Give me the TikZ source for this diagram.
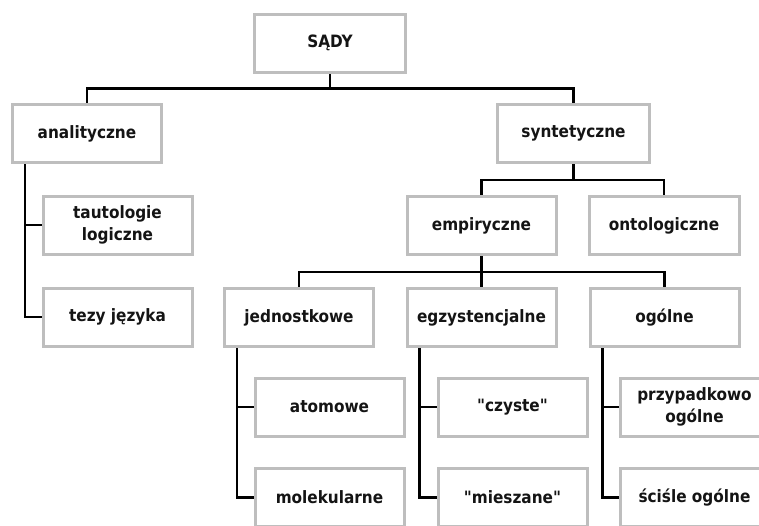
\documentclass[tikz,border=0pt]{standalone}
\usepackage{fontspec}
\setmainfont{DejaVu Sans Condensed}[Ligatures=TeXOff]
\usetikzlibrary{backgrounds}
\definecolor{boxgray}{RGB}{190,190,190}
\definecolor{txt}{RGB}{20,20,20}
\tikzset{
  box/.style={draw=boxgray, line width=3pt, fill=white, rectangle,
    minimum width=149pt, minimum height=58pt, inner sep=2pt, align=center,
    text=txt, font=\bfseries\fontsize{17}{22}\selectfont},
  conn/.style={draw=black, line width=2.8pt}
}
\begin{document}
\begin{tikzpicture}[x=1pt,y=-1pt]
\useasboundingbox (0,0) rectangle (759,525);
\clip (0,0) rectangle (759,525);
\node[box, minimum width=151pt] (sady) at (330,43) {SĄDY};
\node[box] (anal) at (87,133.5) {analityczne};
\node[box, minimum width=152pt] (synt) at (573.5,133.5) {syntetyczne};
\node[box] (taut) at (117.5,225) {tautologie\\logiczne};
\node[box] (tezy) at (117.5,317) {tezy języka};
\node[box] (emp) at (481.5,225.5) {empiryczne};
\node[box, minimum width=150pt] (onto) at (664,225.5) {ontologiczne};
\node[box] (jedn) at (299,317.5) {jednostkowe};
\node[box] (egz) at (481.5,317.5) {egzystencjalne};
\node[box] (ogol) at (664.5,317.5) {ogólne};
\node[box] (atom) at (329.5,407) {atomowe};
\node[box] (molek) at (329.5,497.5) {molekularne};
\node[box] (czys) at (512.5,407) {"czyste"};
\node[box] (mies) at (512.5,497.5) {"mieszane"};
\node[box] (przy) at (694.5,407) {przypadkowo\\ogólne};
\node[box] (scis) at (694.5,497.5) {ściśle ogólne};
\begin{scope}[on background layer]
\draw[conn] (sady.south) -- ++(0,15) -| (anal.north);
\draw[conn] (sady.south) -- ++(0,15) -| (synt.north);
\draw[conn] ([xshift=14pt]anal.south west) |- (taut.west);
\draw[conn] ([xshift=14pt]anal.south west) |- (tezy.west);
\draw[conn] (synt.south) -- ++(0,16) -| (emp.north);
\draw[conn] (synt.south) -- ++(0,16) -| (onto.north);
\draw[conn] (emp.south) -- ++(0,16) -| (jedn.north);
\draw[conn] (emp.south) -- ++(0,16) -| (ogol.north);
\draw[conn] (emp.south) -- (egz.north);
\draw[conn] ([xshift=14pt]jedn.south west) |- (atom.west);
\draw[conn] ([xshift=14pt]jedn.south west) |- (molek.west);
\draw[conn] ([xshift=14pt]egz.south west) |- (czys.west);
\draw[conn] ([xshift=14pt]egz.south west) |- (mies.west);
\draw[conn] ([xshift=14pt]ogol.south west) |- (przy.west);
\draw[conn] ([xshift=14pt]ogol.south west) |- (scis.west);
\end{scope}
\end{tikzpicture}
\end{document}
